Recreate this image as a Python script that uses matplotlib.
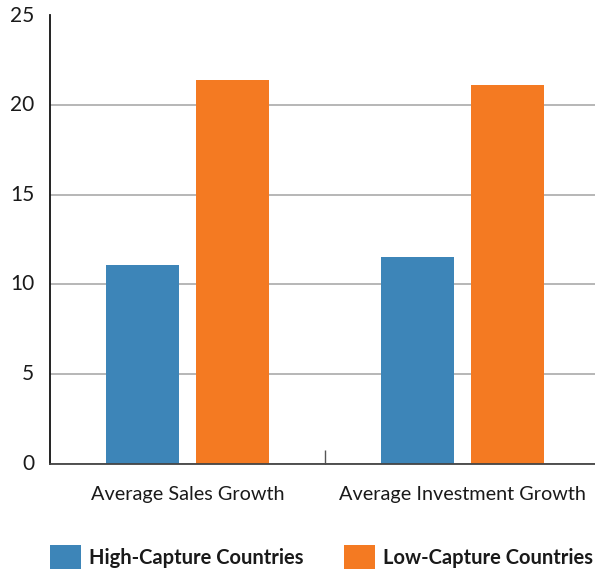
import matplotlib
matplotlib.use("Agg")
import matplotlib.pyplot as plt
from matplotlib.patches import Patch
import numpy as np

categories = ["Average Sales Growth", "Average Investment Growth"]
series_names = ["High-Capture Countries", "Low-Capture Countries"]
high_capture = [11.1, 11.5]
low_capture = [21.4, 21.1]
y_ticks = [0, 5, 10, 15, 20, 25]

BLUE = "#3d85b8"
ORANGE = "#f47a22"
TEXT = "#1a1a1a"

plt.rcParams['font.family'] = ['Lato', 'DejaVu Sans']

fig = plt.figure(figsize=(5.95, 5.69), dpi=100)
W, H = 595, 569
ax = fig.add_axes([50 / W, 105.5 / H, 550 / W, 448 / H])

x = np.arange(len(categories))
bw = 0.265
off = 0.165
ax.bar(x - off, high_capture, width=bw, color=BLUE, zorder=3)
ax.bar(x + off, low_capture, width=bw, color=ORANGE, zorder=3)

ax.set_xlim(-0.5, 1.5)
ax.set_ylim(0, 25)
ax.set_yticks(y_ticks)
ax.set_yticklabels([str(v) for v in y_ticks], fontsize=15, color=TEXT, va='center')
for lbl in ax.get_yticklabels():
    lbl.set_y(lbl.get_position()[1])
ax.yaxis.grid(True, color="#aaaaaa", linewidth=1.2, zorder=0)
ax.set_axisbelow(True)
ax.tick_params(axis='y', length=0, pad=11.5)

ax.set_xticks(x)
ax.set_xticklabels(categories, fontsize=14.3, color=TEXT)
ax.tick_params(axis='x', which='major', length=0, pad=16)
ax.set_xticks([0.5], minor=True)
ax.tick_params(axis='x', which='minor', direction='in', length=10, width=1, color="#555555")

for s in ['top', 'right']:
    ax.spines[s].set_visible(False)
ax.spines['left'].set_color("#111111")
ax.spines['left'].set_linewidth(1.3)
ax.spines['bottom'].set_color("#444444")
ax.spines['bottom'].set_linewidth(1.3)
ax.spines['bottom'].set_zorder(4)

handles = [Patch(facecolor=BLUE, edgecolor='none'), Patch(facecolor=ORANGE, edgecolor='none')]
fig.legend(handles, series_names, loc='lower left', bbox_to_anchor=(50 / W, 0.0),
           ncol=2, frameon=False, prop={'family': ['Lato', 'DejaVu Sans'], 'weight': 'bold', 'size': 14.5},
           handlelength=1.55, handleheight=1.45, handletextpad=0.4, columnspacing=2.0,
           borderaxespad=0, borderpad=0, labelcolor=TEXT)

fig.savefig("out.png", dpi=100)
